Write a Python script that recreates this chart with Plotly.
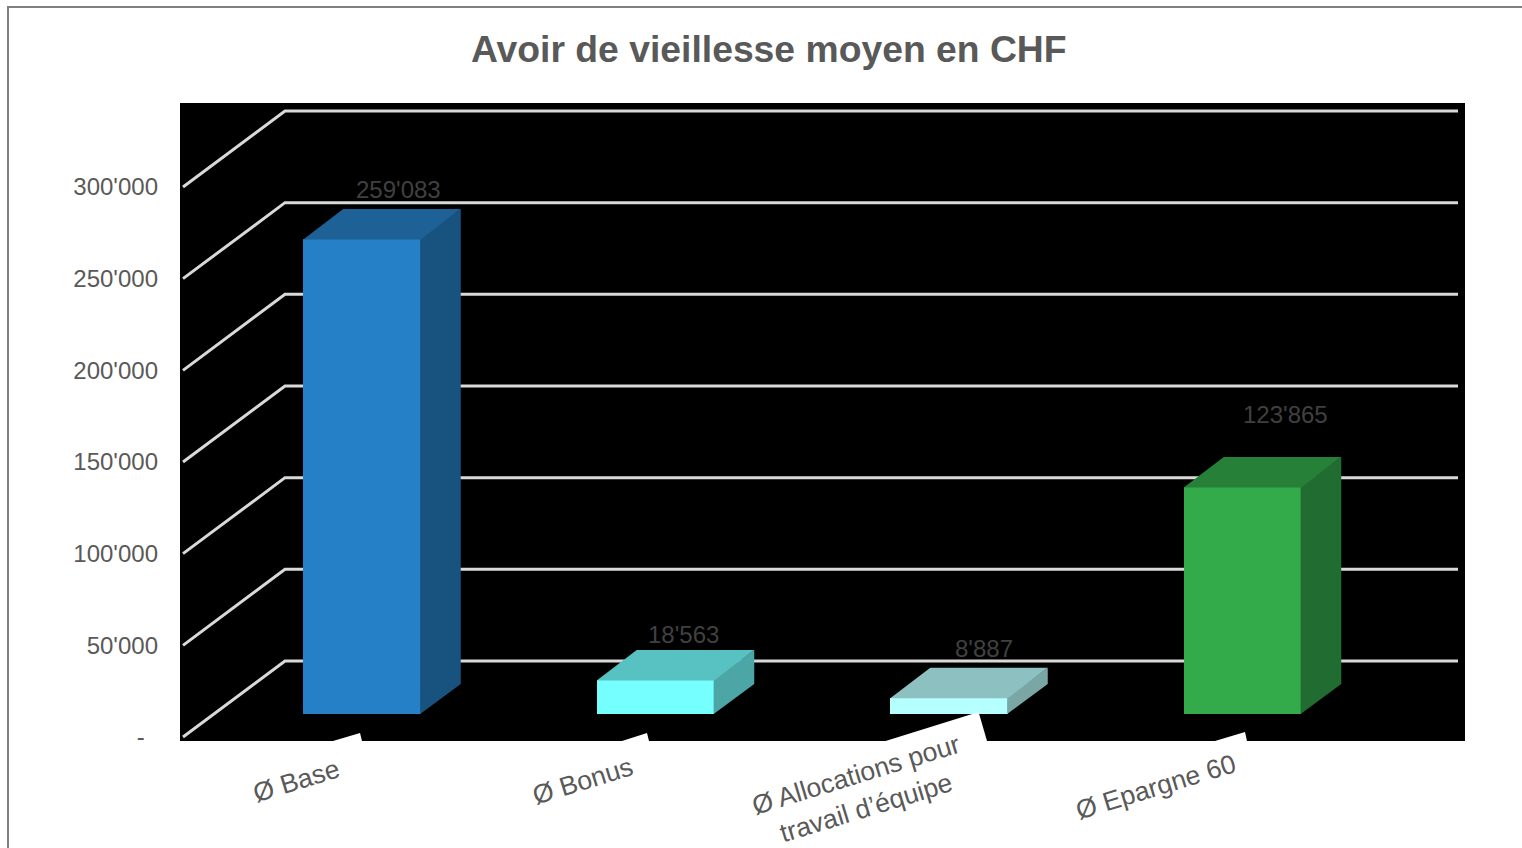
import plotly.graph_objects as go

TITLE = "Avoir de vieillesse moyen en CHF"
categories = ["Ø Base", "Ø Bonus", "Ø Allocations pour<br>travail d’équipe", "Ø Epargne 60"]
values = [259083, 18563, 8887, 123865]
value_labels = ["259'083", "18'563", "8'887", "123'865"]
tick_values = [0, 50000, 100000, 150000, 200000, 250000, 300000]
tick_labels = ["-\u00a0\u00a0", "50'000", "100'000", "150'000", "200'000", "250'000", "300'000"]

front_colors = ["#2580C7", "#75FFFF", "#B5FFFF", "#33AB4A"]
top_colors = ["#1E6196", "#58C1C1", "#8DC0C0", "#278037"]
side_colors = ["#185380", "#4CA6A6", "#7AA6A6", "#216C30"]
label_offsets = [(36, 50), (27.5, 45.5), (34.5, 49), (43, 72)]
category_offsets = [(-66, -40), (-73, -40), (-88, -50), (-87, -46)]

W, H = 1522, 848
L, R, T, B = 180, 1465, 103, 741
PX_PER_CAT = 293.5
PX_PER_VAL = 550 / 300000
X0_PX, Y0_PX = 362, 737


def cat_at(px):
    return (px - X0_PX) / PX_PER_CAT


def val_at(px):
    return (Y0_PX - px) / PX_PER_VAL


def dx(px):
    return px / PX_PER_CAT


def dy(px):
    return px / PX_PER_VAL


BAR_WIDTH = dx(117.5)
BAR_BASE = dy(23)
BAR_DX, BAR_DY = dx(40), dy(30)
GRID_DX, GRID_DY = dx(102), dy(76)
GRID_LEFT = cat_at(183)
GRID_RIGHT = cat_at(1458)
SEAM_X, SEAM_Y = dx(0.6), dy(0.6)

fig = go.Figure()

# Front faces
fig.add_trace(go.Bar(
    x=list(range(len(values))), y=values, base=BAR_BASE, width=BAR_WIDTH,
    marker=dict(color=front_colors, line=dict(width=0)), hoverinfo="skip",
))

# Side and top faces (slightly overlapping the front face to hide seams)
for i, v in enumerate(values):
    x1 = i - BAR_WIDTH / 2
    x2 = i + BAR_WIDTH / 2
    y1 = BAR_BASE
    y2 = BAR_BASE + v
    fig.add_trace(go.Scatter(
        x=[x2 - SEAM_X, x2 + BAR_DX, x2 + BAR_DX, x2 - SEAM_X, x2 - SEAM_X],
        y=[y1, y1 + BAR_DY, y2 + BAR_DY, y2, y1],
        mode="lines", fill="toself", fillcolor=side_colors[i],
        line=dict(width=0), hoverinfo="skip",
    ))
    fig.add_trace(go.Scatter(
        x=[x1, x1 + BAR_DX, x2 + BAR_DX, x2, x1],
        y=[y2 - SEAM_Y, y2 + BAR_DY, y2 + BAR_DY, y2 - SEAM_Y, y2 - SEAM_Y],
        mode="lines", fill="toself", fillcolor=top_colors[i],
        line=dict(width=0), hoverinfo="skip",
    ))

shapes = []
# 3D gridlines, behind the bars
for t in tick_values:
    xa, ya = GRID_LEFT, t
    xb, yb = GRID_LEFT + GRID_DX, t + GRID_DY
    xc, yc = GRID_RIGHT, t + GRID_DY
    shapes.append(dict(
        type="path", xref="x", yref="y", layer="below",
        path=f"M {xa} {ya} L {xb} {yb} L {xc} {yc}",
        line=dict(color="#D9D9D9", width=3),
    ))


def fx(px):
    return (px - L) / (R - L)


def fy(px):
    return (B - px) / (B - T)


# Rotated white label backgrounds that overlap the plot bottom
tabs = [
    [(333, 741), (360, 733), (362, 741)],
    [(622, 741), (647, 733), (649, 741)],
    [(885.6, 741), (978.6, 712), (987, 741)],
    [(1215, 741), (1245, 732), (1247, 741)],
]
for tab in tabs:
    p = " L ".join(f"{fx(a)} {fy(b)}" for a, b in tab)
    shapes.append(dict(type="path", xref="paper", yref="paper", layer="above",
                       path=f"M {p} Z", fillcolor="#FFFFFF", line=dict(width=0)))

# Outer frame
shapes.append(dict(
    type="path", xref="paper", yref="paper", layer="above",
    path=f"M {fx(8)} {fy(848)} L {fx(8)} {fy(7)} L {fx(1522)} {fy(7)}",
    line=dict(color="#7F7F7F", width=2),
))

annotations = []
for i, v in enumerate(values):
    ox, oy = label_offsets[i]
    annotations.append(dict(
        x=i, y=BAR_BASE + v, xref="x", yref="y", text=value_labels[i],
        showarrow=False, xshift=ox, yshift=oy, xanchor="center", yanchor="middle",
        font=dict(family="Liberation Sans", size=24, color="#404040"),
    ))
    cx, cy = category_offsets[i]
    annotations.append(dict(
        x=i, y=0, xref="x", yref="paper", text=categories[i],
        showarrow=False, xshift=cx, yshift=cy, xanchor="center", yanchor="middle",
        textangle=-17, align="center",
        font=dict(family="Liberation Sans", size=26.6, color="#595959"),
    ))
annotations.append(dict(
    x=fx(769), y=fy(49), xref="paper", yref="paper", text=f"<b>{TITLE}</b>",
    showarrow=False, xanchor="center", yanchor="middle",
    font=dict(family="Liberation Sans", size=37.3, color="#595959"),
))

fig.update_layout(
    width=W, height=H, autosize=False,
    margin=dict(l=L, r=W - R, t=T, b=H - B, pad=0),
    paper_bgcolor="#FFFFFF", plot_bgcolor="#000000",
    showlegend=False, bargap=0,
    xaxis=dict(range=[cat_at(L), cat_at(R)], showgrid=False, zeroline=False,
               showticklabels=False, ticks="", showline=False),
    yaxis=dict(range=[val_at(B), val_at(T)], showgrid=False, zeroline=False,
               tickmode="array", tickvals=tick_values, ticktext=tick_labels,
               ticks="", ticklabelstandoff=21, showline=False,
               tickfont=dict(family="Liberation Sans", size=24, color="#595959")),
    shapes=shapes, annotations=annotations,
)

fig.write_html(
    "out.html",
    config={"displayModeBar": False},
    post_script="document.body.style.margin='0';document.body.style.overflow='hidden';",
)
